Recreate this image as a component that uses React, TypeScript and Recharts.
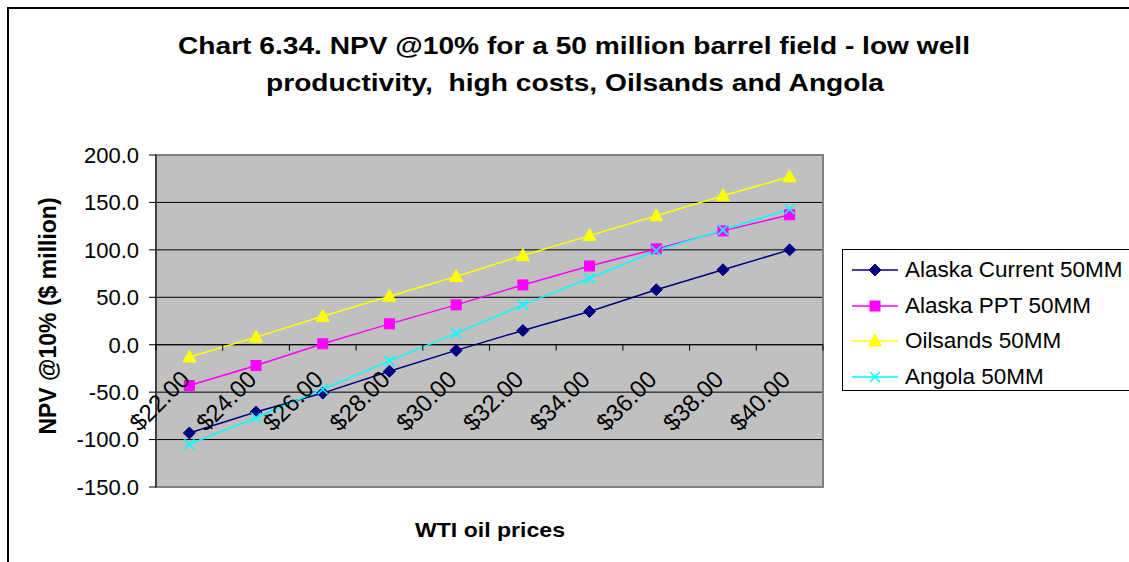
import {
  LineChart, Line, XAxis, YAxis, CartesianGrid, ReferenceArea, ReferenceLine, ReferenceDot,
} from 'recharts'

const prices = ['$22.00', '$24.00', '$26.00', '$28.00', '$30.00', '$32.00', '$34.00', '$36.00', '$38.00', '$40.00']
const alaskaCurrent = [-93, -71, -51, -28, -6, 15, 35, 58, 79, 100]
const alaskaPPT = [-43, -22, 1, 22, 42, 63, 83, 101, 120, 137]
const oilsands = [-13, 8, 30, 51, 72, 94, 115, 136, 157, 177]
const angola = [-105, -77, -47, -17, 12, 42, 70, 99, 121, 143]
const yTicks = [-150, -100, -50, 0, 50, 100, 150, 200]

const FONT = '"Liberation Sans", Arial, Helvetica, sans-serif'
const W = 1129
const H = 562
const MARGIN = { top: 155, right: 306, bottom: 75, left: 86 }
const Y_AXIS_W = 70
const PLOT_W = W - MARGIN.left - Y_AXIS_W - MARGIN.right
const BAND = PLOT_W / prices.length

const data = prices.map((p, i) => ({
  price: p,
  alaskaCurrent: alaskaCurrent[i],
  alaskaPPT: alaskaPPT[i],
  oilsands: oilsands[i],
  angola: angola[i],
}))

type Marker = 'diamond' | 'square' | 'triangle' | 'cross'

const SERIES: { key: string; name: string; color: string; marker: Marker }[] = [
  { key: 'alaskaCurrent', name: 'Alaska Current 50MM', color: '#000080', marker: 'diamond' },
  { key: 'alaskaPPT', name: 'Alaska PPT 50MM', color: '#ff00ff', marker: 'square' },
  { key: 'oilsands', name: 'Oilsands 50MM', color: '#ffff00', marker: 'triangle' },
  { key: 'angola', name: 'Angola 50MM', color: '#00ffff', marker: 'cross' },
]

function MarkerShape({ cx, cy, color, marker }: { cx: number; cy: number; color: string; marker: Marker }) {
  if (cx == null || cy == null) return null
  if (marker === 'diamond') {
    return <polygon points={`${cx},${cy - 6} ${cx + 6},${cy} ${cx},${cy + 6} ${cx - 6},${cy}`} fill={color} stroke={color} />
  }
  if (marker === 'square') {
    return <rect x={cx - 5} y={cy - 5} width={10} height={10} fill={color} stroke={color} />
  }
  if (marker === 'triangle') {
    return <polygon points={`${cx},${cy - 7} ${cx + 6.5},${cy + 5} ${cx - 6.5},${cy + 5}`} fill={color} stroke={color} />
  }
  return (
    <g stroke={color} strokeWidth={1.6}>
      <line x1={cx - 5} y1={cy - 5} x2={cx + 5} y2={cy + 5} />
      <line x1={cx - 5} y1={cy + 5} x2={cx + 5} y2={cy - 5} />
    </g>
  )
}

// category label hung under the zero line, rotated like the Excel axis
function PriceLabel(props: any, text: string, last: boolean) {
  const vb = props.viewBox || {}
  const cx = vb.x + (vb.width || 0) / 2
  const cy = vb.y + (vb.height || 0) / 2
  const tx = cx + 2
  const ty = cy + 36
  return (
    <g>
      <line x1={cx - BAND / 2} y1={cy} x2={cx - BAND / 2} y2={cy + 6} stroke="#000" />
      {last && <line x1={cx + BAND / 2} y1={cy} x2={cx + BAND / 2} y2={cy + 6} stroke="#000" />}
      <text x={tx} y={ty} transform={`rotate(-45 ${tx} ${ty})`} textAnchor="end"
        fontFamily={FONT} fontSize={24} fill="#000">
        {text}
      </text>
    </g>
  )
}

export default function App() {
  return (
    <div style={{ position: 'absolute', left: 0, top: 0, width: W, height: H, overflow: 'hidden', background: '#fff', fontFamily: FONT }}>
      <div style={{ position: 'absolute', left: 7, top: 7, width: 1200, height: 700, border: '2px solid #000' }} />

      <LineChart width={W} height={H} data={data} margin={MARGIN} style={{ position: 'absolute', left: 0, top: 0 }}>
        <CartesianGrid vertical={false} stroke="#000" fill="#c0c0c0" fillOpacity={1} />
        <XAxis dataKey="price" scale="band" hide />
        <YAxis
          width={Y_AXIS_W}
          domain={[-150, 200]}
          ticks={yTicks}
          interval={0}
          tickFormatter={(v: number) => v.toFixed(1)}
          tick={{ fill: '#000', fontSize: 22, fontFamily: FONT }}
          tickSize={7}
          tickMargin={10}
          axisLine={{ stroke: '#000' }}
          tickLine={{ stroke: '#000' }}
        />
        <ReferenceArea y1={-150} y2={200} fill="none" stroke="#808080" strokeWidth={2} />
        <ReferenceLine y={0} stroke="#000" />
        {SERIES.map((s) => (
          <Line
            key={s.key}
            dataKey={s.key}
            name={s.name}
            type="linear"
            stroke={s.color}
            strokeWidth={1.5}
            isAnimationActive={false}
            dot={(p: any) => <MarkerShape key={`${s.key}-${p.index}`} cx={p.cx} cy={p.cy} color={s.color} marker={s.marker} />}
            activeDot={false}
          />
        ))}
        {prices.map((p, i) => (
          <ReferenceDot key={p} x={p} y={0} r={0} fill="none" stroke="none"
            label={(props: any) => PriceLabel(props, p, i === prices.length - 1)} />
        ))}
      </LineChart>

      <svg width={W} height={H} style={{ position: 'absolute', left: 0, top: 0, pointerEvents: 'none' }}>
        <g fontFamily={FONT} fontWeight="bold" fill="#000">
          <text x={574} y={54} fontSize={24} textAnchor="middle" textLength={792} lengthAdjust="spacingAndGlyphs">
            Chart 6.34. NPV @10% for a 50 million barrel field - low well
          </text>
          <text x={575} y={91} fontSize={24} textAnchor="middle" textLength={618} lengthAdjust="spacingAndGlyphs"
            style={{ whiteSpace: 'pre' }}>
            {'productivity,  high costs, Oilsands and Angola'}
          </text>
          <text x={490} y={537} fontSize={21} textAnchor="middle" textLength={150} lengthAdjust="spacingAndGlyphs">
            WTI oil prices
          </text>
          <text x={56} y={316} fontSize={23} textAnchor="middle" transform="rotate(-90 56 316)">
            NPV @10% ($ million)
          </text>
        </g>
      </svg>

      <div style={{ position: 'absolute', left: 842, top: 249, width: 320, height: 140, border: '1.5px solid #000', background: '#fff' }}>
        {SERIES.map((s, i) => (
          <div key={s.key} style={{ position: 'absolute', left: 8, top: 3 + i * 35.5, height: 34, display: 'flex', alignItems: 'center' }}>
            <svg width={48} height={20}>
              <line x1={1} y1={10} x2={47} y2={10} stroke={s.color} strokeWidth={1.5} />
              <MarkerShape cx={24} cy={10} color={s.color} marker={s.marker} />
            </svg>
            <span style={{ marginLeft: 6, fontSize: 22.5, color: '#000', whiteSpace: 'nowrap' }}>{s.name}</span>
          </div>
        ))}
      </div>
    </div>
  )
}
